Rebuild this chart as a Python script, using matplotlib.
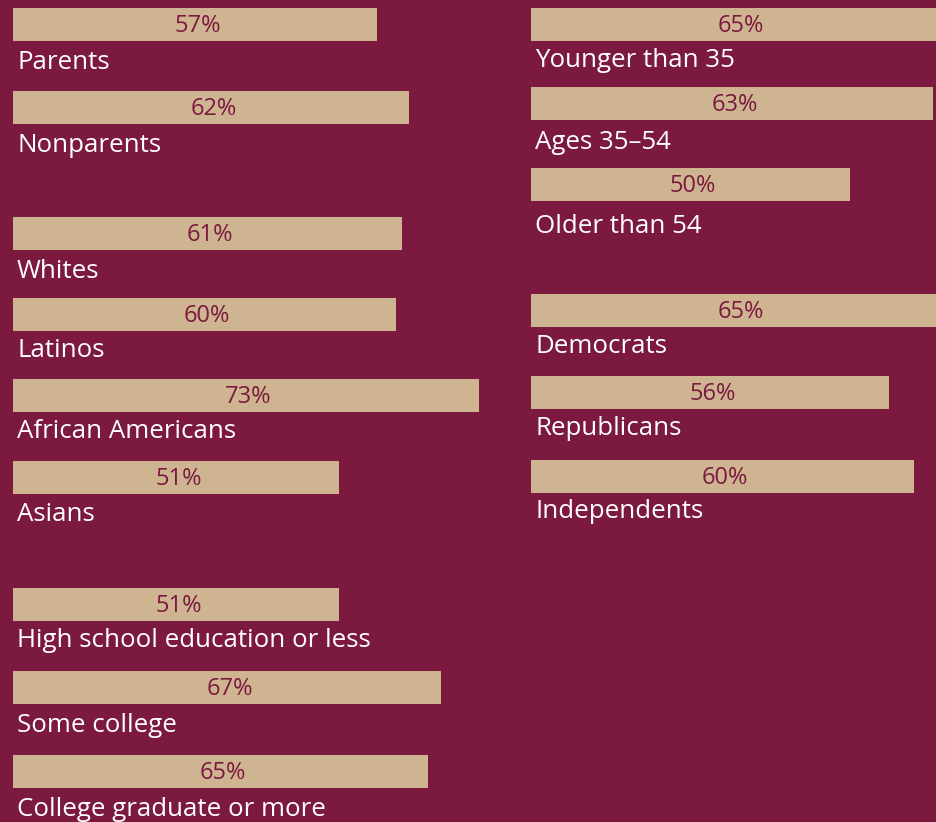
import matplotlib
matplotlib.use("Agg")
import matplotlib.pyplot as plt

# data
left_labels = ["Parents", "Nonparents", "Whites", "Latinos", "African Americans",
               "Asians", "High school education or less", "Some college",
               "College graduate or more"]
left_values = [57, 62, 61, 60, 73, 51, 51, 67, 65]

right_labels = ["Younger than 35", "Ages 35\u201354", "Older than 54",
                "Democrats", "Republicans", "Independents"]
right_values = [65, 63, 50, 65, 56, 60]

# layout (pixel rows, top of each bar)
left_tops = [8, 91, 217, 298, 379, 461, 588, 671, 755]
right_tops = [8, 87, 168, 294, 376, 460]
label_gap = [27, 27, 27, 25, 25, 26, 25, 27, 27]
right_gap = [25, 28, 31, 25, 25, 24]

BG = "#7b193f"
BAR = "#cfb491"
W, H = 936, 822
PX = 6.385  # pixels per percent
BAR_H = 33

plt.rcParams["font.family"] = ["Open Sans", "DejaVu Sans"]

fig = plt.figure(figsize=(W / 100, H / 100), dpi=100, facecolor=BG)


def column(x0, width, labels, values, tops, gaps):
    ax = fig.add_axes([x0 / W, 0, width / W, 1])
    ax.set_facecolor(BG)
    ax.set_xlim(0, width / PX)
    ax.set_ylim(H, 0)
    ax.axis("off")
    centers = [t + BAR_H / 2 for t in tops]
    ax.barh(centers, values, height=BAR_H, left=0, color=BAR)
    for lab, v, t, c, g in zip(labels, values, tops, centers, gaps):
        ax.text(v / 2 + 0.4, c + 1.5, f"{v}%", ha="center", va="center",
                color=BG, fontsize=17, clip_on=False)
        ax.text(4 / PX, t + BAR_H + g + 1, lab, ha="left", va="baseline",
                color="white", fontsize=18.6)
    return ax


column(13, 507, left_labels, left_values, left_tops, label_gap)
column(531, 405, right_labels, right_values, right_tops, right_gap)

fig.savefig("out.png", dpi=100, facecolor=BG)
